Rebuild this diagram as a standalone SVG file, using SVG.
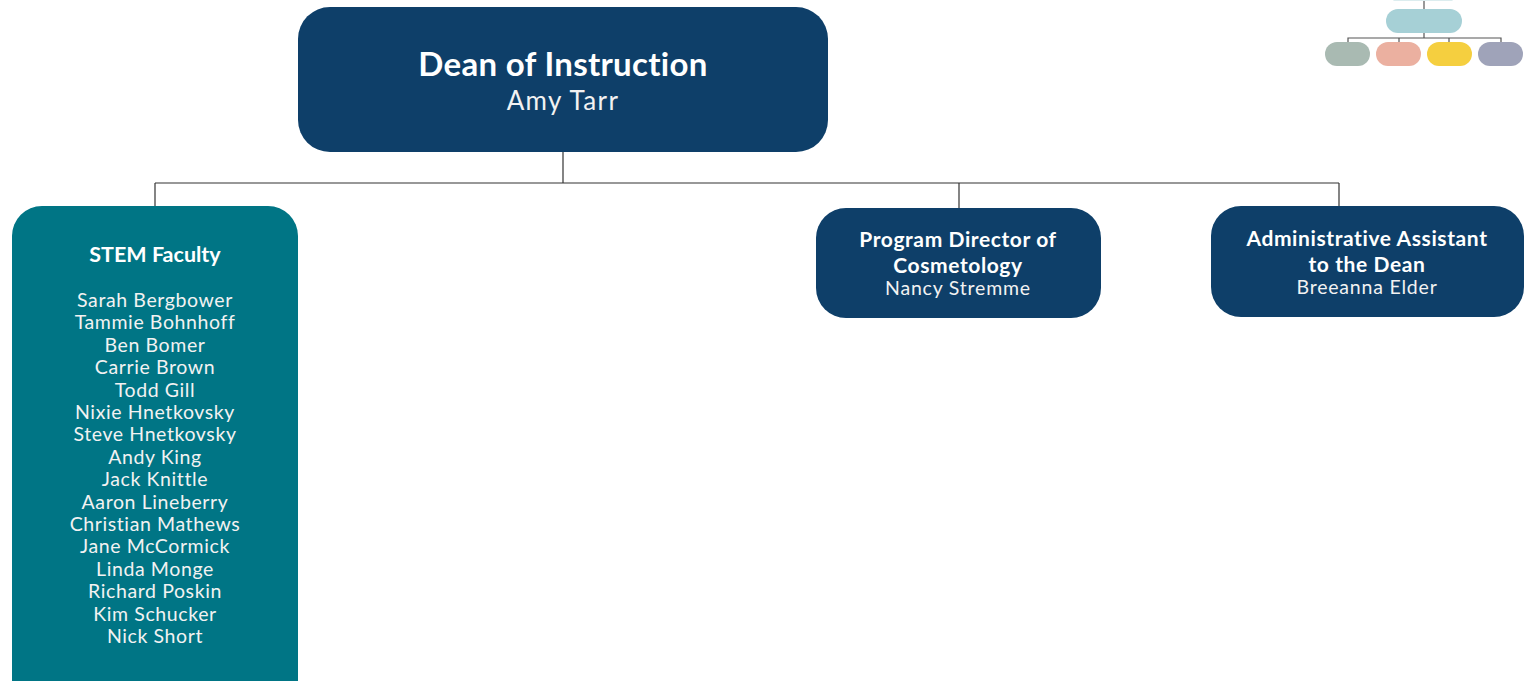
<svg xmlns="http://www.w3.org/2000/svg" width="1532" height="681" viewBox="0 0 1532 681">
<style>
.t{font-family:"Lato","Noto Sans","Liberation Sans",sans-serif;fill:#FFFFFF;text-anchor:middle}
.b{font-weight:bold}
.n{fill:#F2F2F2}
.ln{stroke:#333333;stroke-width:1.2;fill:none}
.ic{stroke:#555555;stroke-width:1.2;fill:none}
</style>
<rect width="1532" height="681" fill="#FFFFFF"/>
<g id="legend">
<line class="ic" x1="1424" y1="0" x2="1424" y2="9"/>
<rect x="1393" y="-2" width="60" height="3" rx="1.5" fill="#DCEDEF"/>
<rect x="1386" y="9" width="76" height="24" rx="12" fill="#A6D0D6"/>
<polyline class="ic" points="1424,33 1424,38"/>
<polyline class="ic" points="1348,42 1348,38 1501,38 1501,42"/>
<line class="ic" x1="1399" y1="38" x2="1399" y2="42"/>
<line class="ic" x1="1449" y1="38" x2="1449" y2="42"/>
<rect x="1325" y="42" width="45" height="24" rx="12" fill="#A9BAB2"/>
<rect x="1376" y="42" width="45" height="24" rx="12" fill="#EBB0A0"/>
<rect x="1427" y="42" width="45" height="24" rx="12" fill="#F5CF3F"/>
<rect x="1478" y="42" width="45" height="24" rx="12" fill="#9FA3B9"/>
</g>
<g id="connectors">
<line class="ln" x1="563" y1="152" x2="563" y2="183"/>
<line class="ln" x1="155" y1="183" x2="1339" y2="183"/>
<line class="ln" x1="155" y1="183" x2="155" y2="207"/>
<line class="ln" x1="959" y1="183" x2="959" y2="209"/>
<line class="ln" x1="1339" y1="183" x2="1339" y2="207"/>
</g>
<g id="dean">
<rect x="298" y="7" width="530" height="145" rx="32" fill="#0E3F69"/>
<text class="t b" x="563" y="76" font-size="33" letter-spacing="0.3">Dean of Instruction</text>
<text class="t n" x="563" y="110" font-size="26" letter-spacing="1.4">Amy Tarr</text>
</g>
<g id="stem">
<rect x="12" y="206" width="286" height="510" rx="30" fill="#007585"/>
<text class="t b" x="155" y="262" font-size="21.5">STEM Faculty</text>
<g class="t n" font-size="19.5" letter-spacing="0.6">
<text x="155" y="307">Sarah Bergbower</text>
<text x="155" y="329.4">Tammie Bohnhoff</text>
<text x="155" y="351.8">Ben Bomer</text>
<text x="155" y="374.2">Carrie Brown</text>
<text x="155" y="396.6">Todd Gill</text>
<text x="155" y="419">Nixie Hnetkovsky</text>
<text x="155" y="441.4">Steve Hnetkovsky</text>
<text x="155" y="463.8">Andy King</text>
<text x="155" y="486.2">Jack Knittle</text>
<text x="155" y="508.6">Aaron Lineberry</text>
<text x="155" y="531">Christian Mathews</text>
<text x="155" y="553.4">Jane McCormick</text>
<text x="155" y="575.8">Linda Monge</text>
<text x="155" y="598.2">Richard Poskin</text>
<text x="155" y="620.6">Kim Schucker</text>
<text x="155" y="643">Nick Short</text>
</g>
</g>
<g id="cosmetology">
<rect x="816" y="208" width="285" height="110" rx="30" fill="#0E3F69"/>
<text class="t b" x="958" y="247" font-size="21" letter-spacing="0.6">Program Director of</text>
<text class="t b" x="958" y="273" font-size="21" letter-spacing="0.6">Cosmetology</text>
<text class="t n" x="958" y="295" font-size="19.5" letter-spacing="0.8">Nancy Stremme</text>
</g>
<g id="admin">
<rect x="1211" y="206" width="313" height="111" rx="30" fill="#0E3F69"/>
<text class="t b" x="1367" y="246" font-size="21" letter-spacing="0.6">Administrative Assistant</text>
<text class="t b" x="1367" y="272" font-size="21" letter-spacing="0.6">to the Dean</text>
<text class="t n" x="1367" y="294" font-size="19.5" letter-spacing="0.8">Breeanna Elder</text>
</g>
</svg>
